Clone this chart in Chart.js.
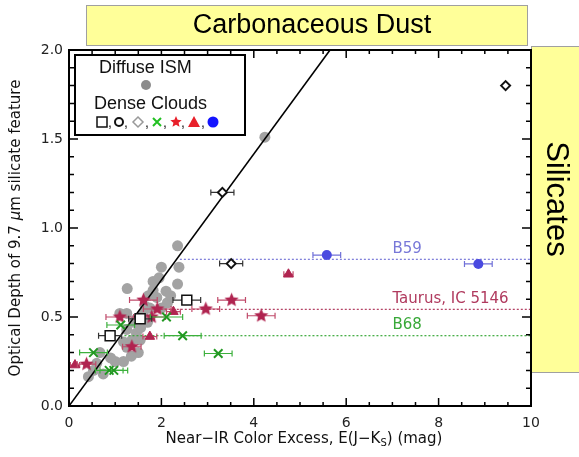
<!DOCTYPE html>
<html>
<head>
<meta charset="utf-8">
<script src="https://cdn.jsdelivr.net/npm/chart.js@4.4.0/dist/chart.umd.min.js"></script>
<style>
html, body { margin: 0; padding: 0; background: #fff; }
</style>
</head>
<body>
<canvas id="polvoChart" width="579" height="457"></canvas>
<script>
// Diffuse ISM (puntos grises)
const difusoX = [2.35, 2.0, 2.38, 2.35, 1.82, 1.26, 1.82, 2.10, 1.72, 1.9, 2.13, 1.65, 1.1, 1.25, 1.6, 1.46,
                 1.25, 1.46, 1.36, 1.18, 1.54, 1.25, 0.67, 1.0, 1.18, 0.6, 0.53, 0.42, 0.74, 4.24,
                 1.7, 1.55, 1.4, 1.75, 2.0, 1.35, 0.9, 1.5, 1.95, 2.2];
const difusoY = [0.90, 0.78, 0.78, 0.685, 0.70, 0.66, 0.65, 0.645, 0.62, 0.61, 0.58, 0.56, 0.52, 0.52, 0.52, 0.49,
                 0.43, 0.41, 0.37, 0.36, 0.37, 0.33, 0.30, 0.25, 0.25, 0.24, 0.20, 0.165, 0.18, 1.51,
                 0.47, 0.44, 0.47, 0.55, 0.55, 0.28, 0.27, 0.30, 0.72, 0.62];

// Dense clouds
const cuadradoX = [0.89, 1.54, 2.55];
const cuadradoY = [0.395, 0.49, 0.595];
const cuadradoErr = [0.25, 0.25, 0.3];

const rombosX = [3.32, 3.51, 9.45];
const rombosY = [1.20, 0.80, 1.80];
const rombosErr = [0.25, 0.25, 0];

const cruzX = [0.53, 0.87, 0.97, 1.12, 2.11, 2.46, 3.23];
const cruzY = [0.30, 0.20, 0.20, 0.455, 0.50, 0.395, 0.295];
const cruzErr = [0.3, 0.3, 0.3, 0.3, 0.35, 0.4, 0.3];

const estrellaX = [0.38, 1.1, 1.36, 1.61, 1.79, 1.91, 2.96, 3.52, 4.16];
const estrellaY = [0.235, 0.50, 0.333, 0.595, 0.50, 0.545, 0.545, 0.595, 0.507];
const estrellaErr = [0.2, 0.3, 0.2, 0.3, 0.3, 0.3, 0.3, 0.3, 0.3];

const trianguloX = [0.13, 1.75, 2.26, 4.75];
const trianguloY = [0.23, 0.39, 0.53, 0.74];
const trianguloErr = [0.1, 0.15, 0.15, 0.1];

const azulX = [5.58, 8.86];
const azulY = [0.848, 0.798];
const azulErr = [0.3, 0.3];

// Recta y niveles de nubes
const rectaX = [0, 5.65];
const rectaY = [0, 2.0];
const nubes = ['B59', 'Taurus, IC 5146', 'B68'];
const nivelNube = [0.824, 0.543, 0.395];
const inicioNube = [2.4, 1.9, 1.2];

// Ejes
const ticksX = [0, 2, 4, 6, 8, 10];
const ticksY = [0.0, 0.5, 1.0, 1.5, 2.0];

const puntos = (xs, ys) => xs.map((x, i) => ({ x: x, y: ys[i] }));

function estrella(color, r) {
    const c = document.createElement('canvas');
    const s = Math.ceil(r * 2 + 2);
    c.width = s; c.height = s;
    const g = c.getContext('2d');
    g.beginPath();
    for (let i = 0; i < 10; i++) {
        const rad = i % 2 === 0 ? r : r * 0.45;
        const a = -Math.PI / 2 + i * Math.PI / 5;
        g.lineTo(s / 2 + rad * Math.cos(a), s / 2 + rad * Math.sin(a));
    }
    g.closePath();
    g.fillStyle = color;
    g.fill();
    return c;
}

const coloresNube = ['#7878d8', '#b03a5e', '#38a838'];

const datasets = [
    {
        label: 'Diffuse ISM',
        data: puntos(difusoX, difusoY),
        pointStyle: 'circle', pointRadius: 5.5,
        backgroundColor: '#a3a3a3', borderWidth: 0,
        order: 10
    },
    {
        type: 'line',
        data: puntos(rectaX, rectaY),
        borderColor: '#000', borderWidth: 1.6,
        pointRadius: 0, order: 9
    }
];
nubes.forEach((n, i) => {
    datasets.push({
        type: 'line',
        label: n,
        data: [{ x: inicioNube[i], y: nivelNube[i] }, { x: 10, y: nivelNube[i] }],
        borderColor: coloresNube[i], borderWidth: 1.2, borderDash: [2, 2],
        pointRadius: 0, order: 8
    });
});
datasets.push(
    {
        data: puntos(cuadradoX, cuadradoY), xErr: cuadradoErr, errColor: '#333',
        pointStyle: 'rect', pointRadius: 7, backgroundColor: '#fff',
        borderColor: '#111', borderWidth: 1.5, order: 1
    },
    {
        data: puntos(rombosX, rombosY), xErr: rombosErr, errColor: '#333',
        pointStyle: 'rectRot', pointRadius: 4.5, backgroundColor: '#fff',
        borderColor: '#111', borderWidth: 2, order: 1
    },
    {
        data: puntos(cruzX, cruzY), xErr: cruzErr, errColor: '#3cb03c',
        pointStyle: 'crossRot', pointRadius: 6,
        borderColor: '#229922', borderWidth: 2, order: 1
    },
    {
        data: puntos(estrellaX, estrellaY), xErr: estrellaErr, errColor: '#c04a6a',
        pointStyle: estrella('#b02450', 7.5), order: 1
    },
    {
        data: puntos(trianguloX, trianguloY), xErr: trianguloErr, errColor: '#c04a6a',
        pointStyle: 'triangle', pointRadius: 5.5, backgroundColor: '#b02450',
        borderColor: '#b02450', borderWidth: 1, order: 1
    },
    {
        data: puntos(azulX, azulY), xErr: azulErr, errColor: '#7070d8',
        pointStyle: 'circle', pointRadius: 5, backgroundColor: '#4a4ae0',
        borderWidth: 0, order: 1
    }
);

const marcoPlugin = {
    id: 'marco',
    beforeDraw(chart) {
        const ctx = chart.ctx;
        ctx.save();
        ctx.fillStyle = '#fff';
        ctx.fillRect(0, 0, chart.width, chart.height);
        // cajas amarillas
        ctx.fillStyle = '#ffff99';
        ctx.strokeStyle = '#a0a0a0';
        ctx.lineWidth = 1;
        ctx.fillRect(86.5, 5.5, 441, 40);
        ctx.strokeRect(86.5, 5.5, 441, 40);
        ctx.fillRect(531.5, 46.5, 60, 326);
        ctx.strokeRect(531.5, 46.5, 60, 326);
        ctx.fillStyle = '#000';
        ctx.font = '27px "Liberation Sans", Arial, sans-serif';
        ctx.textAlign = 'center';
        ctx.textBaseline = 'middle';
        ctx.fillText('Carbonaceous Dust', 312, 26);
        ctx.translate(556, 199);
        ctx.rotate(Math.PI / 2);
        ctx.font = '31px "Liberation Sans", Arial, sans-serif';
        ctx.fillText('Silicates', 0, 0);
        ctx.restore();
    },
    beforeDatasetDraw(chart, args) {
        const ds = chart.data.datasets[args.index];
        if (!ds.xErr) return;
        const ctx = chart.ctx, xs = chart.scales.x, ys = chart.scales.y;
        ctx.save();
        ctx.strokeStyle = ds.errColor;
        ctx.lineWidth = 1.2;
        ds.data.forEach((p, i) => {
            const e = ds.xErr[i];
            if (!e) return;
            const x1 = xs.getPixelForValue(p.x - e), x2 = xs.getPixelForValue(p.x + e);
            const y = ys.getPixelForValue(p.y);
            ctx.beginPath();
            ctx.moveTo(x1, y); ctx.lineTo(x2, y);
            ctx.moveTo(x1, y - 3); ctx.lineTo(x1, y + 3);
            ctx.moveTo(x2, y - 3); ctx.lineTo(x2, y + 3);
            ctx.stroke();
        });
        ctx.restore();
    },
    afterDraw(chart) {
        const ctx = chart.ctx, ca = chart.chartArea;
        const xs = chart.scales.x, ys = chart.scales.y;
        ctx.save();
        // etiquetas de nubes
        ctx.font = '15px "DejaVu Sans", sans-serif';
        ctx.textAlign = 'left';
        ctx.textBaseline = 'bottom';
        nubes.forEach((n, i) => {
            ctx.fillStyle = coloresNube[i];
            ctx.fillText(n, xs.getPixelForValue(7.0), ys.getPixelForValue(nivelNube[i]) - 3);
        });
        // marco y ticks
        ctx.strokeStyle = '#000';
        ctx.lineWidth = 2;
        ctx.strokeRect(ca.left, ca.top, ca.right - ca.left, ca.bottom - ca.top);
        ctx.lineWidth = 1.5;
        ctx.beginPath();
        for (let k = 0; k <= 20; k++) {
            const px = xs.getPixelForValue(k * 0.5);
            const len = k % 4 === 0 ? 8 : 4;
            ctx.moveTo(px, ca.bottom); ctx.lineTo(px, ca.bottom - len);
            ctx.moveTo(px, ca.top); ctx.lineTo(px, ca.top + len);
        }
        for (let k = 0; k <= 20; k++) {
            const py = ys.getPixelForValue(k * 0.1);
            const len = k % 5 === 0 ? 9 : 5;
            ctx.moveTo(ca.left, py); ctx.lineTo(ca.left + len, py);
            ctx.moveTo(ca.right, py); ctx.lineTo(ca.right - len, py);
        }
        ctx.stroke();

        // titulos de ejes
        ctx.fillStyle = '#111';
        ctx.textBaseline = 'middle';
        ctx.textAlign = 'left';
        const f = '15px "DejaVu Sans", sans-serif';
        const fs = '10px "DejaVu Sans", sans-serif';
        const a = 'Near\u2212IR Color Excess, E(J\u2212K', b = 'S', c = ') (mag)';
        ctx.font = f; const wa = ctx.measureText(a).width, wc = ctx.measureText(c).width;
        ctx.font = fs; const wb = ctx.measureText(b).width;
        let x0 = 304 - (wa + wb + wc) / 2;
        const ty = 439;
        ctx.font = f; ctx.fillText(a, x0, ty);
        ctx.font = fs; ctx.fillText(b, x0 + wa, ty + 4);
        ctx.font = f; ctx.fillText(c, x0 + wa + wb, ty);

        ctx.save();
        ctx.translate(16, 228);
        ctx.rotate(-Math.PI / 2);
        const p1 = 'Optical Depth of 9.7 ', p2 = '\u03bc', p3 = 'm silicate feature';
        const fi = 'italic 15px "DejaVu Sans", sans-serif';
        ctx.font = f; const w1 = ctx.measureText(p1).width, w3 = ctx.measureText(p3).width;
        ctx.font = fi; const w2 = ctx.measureText(p2).width;
        x0 = -(w1 + w2 + w3) / 2;
        ctx.font = f; ctx.fillText(p1, x0, 0);
        ctx.font = fi; ctx.fillText(p2, x0 + w1, 0);
        ctx.font = f; ctx.fillText(p3, x0 + w1 + w2, 0);
        ctx.restore();

        // leyenda
        ctx.fillStyle = '#fff';
        ctx.fillRect(75, 55, 170, 80);
        ctx.strokeStyle = '#000';
        ctx.lineWidth = 2;
        ctx.strokeRect(75, 55, 170, 80);
        ctx.fillStyle = '#111';
        ctx.font = '18px "Liberation Sans", Arial, sans-serif';
        ctx.textAlign = 'left';
        ctx.fillText('Diffuse ISM', 99, 68);
        ctx.fillText('Dense Clouds', 94, 104);
        ctx.fillStyle = '#8c8c8c';
        ctx.beginPath(); ctx.arc(146, 85, 5, 0, Math.PI * 2); ctx.fill();

        const fila = 122;
        ctx.lineWidth = 1.5;
        ctx.strokeStyle = '#111';
        ctx.strokeRect(97, fila - 5, 10, 10);
        ctx.lineWidth = 2;
        ctx.beginPath(); ctx.arc(119, fila, 4, 0, Math.PI * 2); ctx.stroke();
        ctx.strokeStyle = '#999';
        ctx.lineWidth = 1.5;
        ctx.beginPath();
        ctx.moveTo(138, fila - 5); ctx.lineTo(143, fila); ctx.lineTo(138, fila + 5); ctx.lineTo(133, fila);
        ctx.closePath(); ctx.stroke();
        ctx.strokeStyle = '#22c022';
        ctx.lineWidth = 2;
        ctx.beginPath();
        ctx.moveTo(153, fila - 4); ctx.lineTo(161, fila + 4);
        ctx.moveTo(161, fila - 4); ctx.lineTo(153, fila + 4);
        ctx.stroke();
        ctx.drawImage(estrella('#e8202a', 6), 169, fila - 7);
        ctx.fillStyle = '#e8202a';
        ctx.beginPath();
        ctx.moveTo(194, fila - 6); ctx.lineTo(200, fila + 5); ctx.lineTo(188, fila + 5);
        ctx.closePath(); ctx.fill();
        ctx.fillStyle = '#1414ff';
        ctx.beginPath(); ctx.arc(213, fila, 5.5, 0, Math.PI * 2); ctx.fill();
        ctx.fillStyle = '#111';
        ctx.font = '14px "Liberation Sans", Arial, sans-serif';
        ctx.textBaseline = 'alphabetic';
        [108, 124, 145, 163, 181, 201].forEach(x => ctx.fillText(',', x, fila + 5));
        ctx.restore();
    }
};

new Chart(document.getElementById('polvoChart').getContext('2d'), {
    type: 'scatter',
    data: { datasets: datasets },
    options: {
        responsive: false,
        animation: false,
        layout: { padding: { left: 0, right: 48, top: 50, bottom: 0 } },
        plugins: {
            legend: { display: false },
            tooltip: { enabled: false }
        },
        scales: {
            x: {
                type: 'linear', min: 0, max: 10,
                grid: { display: false, drawTicks: false },
                border: { display: false },
                afterBuildTicks: s => { s.ticks = ticksX.map(v => ({ value: v })); },
                afterFit: s => { s.height = 51; },
                ticks: {
                    padding: 9, color: '#222',
                    font: { family: 'DejaVu Sans', size: 14 },
                    maxRotation: 0
                }
            },
            y: {
                type: 'linear', min: 0, max: 2,
                grid: { display: false, drawTicks: false },
                border: { display: false },
                afterBuildTicks: s => { s.ticks = ticksY.map(v => ({ value: v })); },
                afterFit: s => { s.width = 69; },
                ticks: {
                    padding: 6, color: '#222',
                    font: { family: 'DejaVu Sans', size: 14 },
                    callback: v => v.toFixed(1)
                }
            }
        }
    },
    plugins: [marcoPlugin]
});
</script>
</body>
</html>
